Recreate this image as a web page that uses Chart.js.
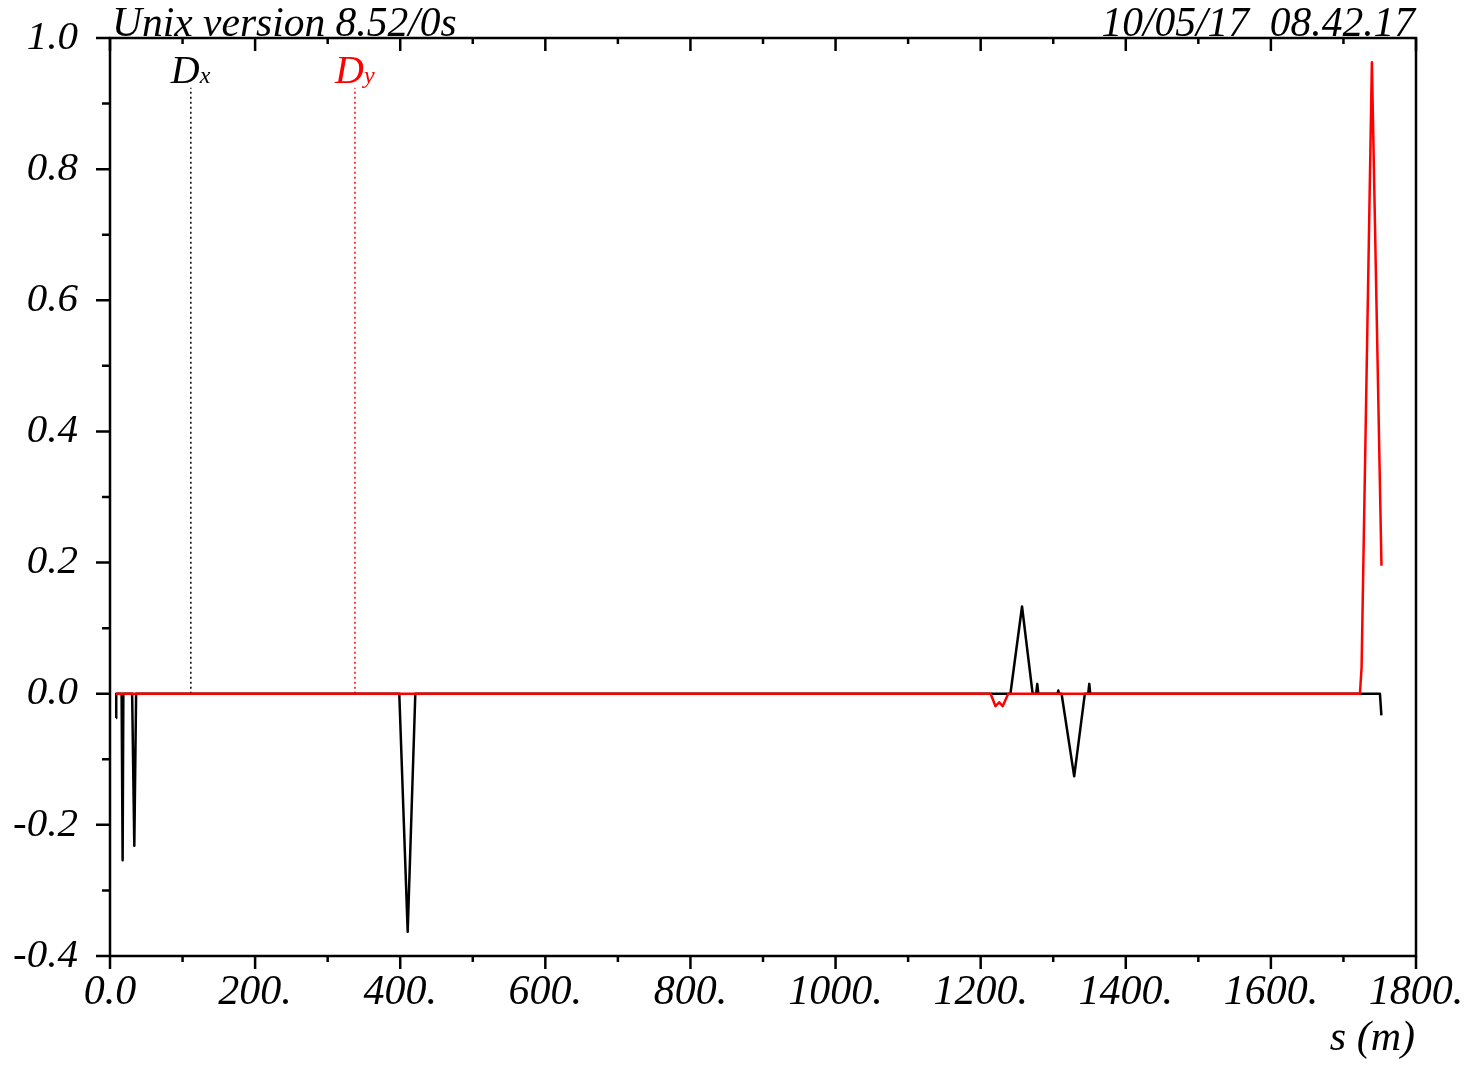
<!DOCTYPE html>
<html>
<head>
<meta charset="utf-8">
<title>Dispersion</title>
<script src="https://cdn.jsdelivr.net/npm/chart.js@4.4.1/dist/chart.umd.min.js"></script>
<style>
  html, body { margin: 0; padding: 0; background: #fff; }
  #wrap { width: 1473px; height: 1072px; }
</style>
</head>
<body>
<div id="wrap"><canvas id="dispChart" width="1473" height="1072"></canvas></div>
<script>
// s (m) and dispersion values
const sDx = [8.3, 8.6, 16.0, 17.4, 18.4, 30.5, 33.5, 36.0, 398.7, 410.3, 420.8, 1241.0, 1257.0, 1271.6, 1276.5, 1278.0, 1279.5, 1306.0, 1307.0, 1308.0, 1311.5, 1328.9, 1343.6, 1348.2, 1349.7, 1351.0, 1750.3, 1752.3];
const dx = [-0.037, 0, 0, -0.254, 0, 0, -0.232, 0, 0, -0.363, 0, 0, 0.133, 0, 0, 0.015, 0, 0, 0.005, 0, 0, -0.126, 0, 0, 0.015, 0, 0, -0.033];

const sDy = [8.3, 1213.7, 1220.5, 1225.6, 1230.3, 1238.0, 1722.7, 1725.0, 1739.2, 1752.4];
const dy = [0, 0, -0.019, -0.013, -0.019, 0, 0, 0.04, 0.963, 0.195];

const xTickValues = [0, 200, 400, 600, 800, 1000, 1200, 1400, 1600, 1800];
const xMinorTicks = [100, 300, 500, 700, 900, 1100, 1300, 1500, 1700];
const yTickValues = [-0.4, -0.2, 0, 0.2, 0.4, 0.6, 0.8, 1.0];
const yMinorTicks = [-0.3, -0.1, 0.1, 0.3, 0.5, 0.7, 0.9];

// curve labels with their leader lines
const dxMarkerS = 111.4;
const dyMarkerS = 337.6;
const markerTop = 0.924;

const headerLeft = 'Unix version 8.52/0s';
const headerRight = '10/05/17  08.42.17';
const xTitle = 's (m)';

const SERIF = '"Liberation Serif", "Times New Roman", serif';
const RED = '#ff0000';

const framePlugin = {
  id: 'frame',
  afterDraw(chart) {
    const { ctx, chartArea: a, scales } = chart;
    const xs = scales.x;
    const ys = scales.y;
    ctx.save();
    ctx.strokeStyle = '#000';
    ctx.lineWidth = 2.5;
    ctx.strokeRect(a.left, a.top, a.right - a.left, a.bottom - a.top);

    ctx.beginPath();
    xTickValues.forEach((v) => {
      const px = xs.getPixelForValue(v);
      ctx.moveTo(px, a.bottom);
      ctx.lineTo(px, a.bottom + 13);
      ctx.moveTo(px, a.top);
      ctx.lineTo(px, a.top + 13);
    });
    xMinorTicks.forEach((v) => {
      const px = xs.getPixelForValue(v);
      ctx.moveTo(px, a.bottom);
      ctx.lineTo(px, a.bottom + 6);
      ctx.moveTo(px, a.top);
      ctx.lineTo(px, a.top + 6);
    });
    yTickValues.forEach((v) => {
      const py = ys.getPixelForValue(v);
      ctx.moveTo(a.left, py);
      ctx.lineTo(a.left - 14, py);
    });
    yMinorTicks.forEach((v) => {
      const py = ys.getPixelForValue(v);
      ctx.moveTo(a.left, py);
      ctx.lineTo(a.left - 8, py);
    });
    ctx.stroke();

    ctx.fillStyle = '#000';
    ctx.font = 'italic 41.5px ' + SERIF;
    ctx.textBaseline = 'alphabetic';
    ctx.textAlign = 'left';
    ctx.fillText(headerLeft, a.left + 2, a.top - 2);
    ctx.textAlign = 'right';
    ctx.fillText(headerRight, a.right - 1, a.top - 2);
    ctx.font = 'italic 42px ' + SERIF;
    ctx.fillText(xTitle, a.right - 1, 1050);

    // curve labels D_x / D_y
    const labelY = ys.getPixelForValue(markerTop) - 5;
    const drawLabel = (s, sub, color) => {
      const px = xs.getPixelForValue(s);
      ctx.fillStyle = color;
      ctx.textAlign = 'left';
      ctx.font = 'italic 40px ' + SERIF;
      ctx.fillText('D', px - 20, labelY);
      ctx.font = 'italic 24px ' + SERIF;
      ctx.fillText(sub, px + 9, labelY);
    };
    drawLabel(dxMarkerS, 'x', '#000');
    drawLabel(dyMarkerS, 'y', RED);
    ctx.restore();
  },
};

const toPoints = (xsArr, ysArr) => xsArr.map((s, i) => ({ x: s, y: ysArr[i] }));

new Chart(document.getElementById('dispChart').getContext('2d'), {
  type: 'line',
  data: {
    datasets: [
      {
        label: 'Dy',
        data: toPoints(sDy, dy),
        borderColor: RED,
        borderWidth: 2.5,
        borderJoinStyle: 'round',
        pointRadius: 0,
        tension: 0,
        order: 0,
      },
      {
        label: 'Dx',
        data: toPoints(sDx, dx),
        borderColor: '#000',
        borderWidth: 2.5,
        borderJoinStyle: 'round',
        pointRadius: 0,
        tension: 0,
        order: 1,
      },
      {
        label: 'Dx marker',
        data: [{ x: dxMarkerS, y: 0 }, { x: dxMarkerS, y: markerTop }],
        borderColor: '#000',
        borderWidth: 1.5,
        borderDash: [2, 3],
        pointRadius: 0,
        order: 2,
      },
      {
        label: 'Dy marker',
        data: [{ x: dyMarkerS, y: 0 }, { x: dyMarkerS, y: markerTop }],
        borderColor: RED,
        borderWidth: 1.5,
        borderDash: [2, 3],
        pointRadius: 0,
        order: 2,
      },
    ],
  },
  options: {
    responsive: false,
    animation: false,
    layout: { padding: { top: 38, right: 57, left: 0, bottom: 0 } },
    plugins: {
      legend: { display: false },
      tooltip: { enabled: false },
    },
    scales: {
      x: {
        type: 'linear',
        min: 0,
        max: 1800,
        afterBuildTicks: (scale) => {
          scale.ticks = xTickValues.map((v) => ({ value: v }));
        },
        afterFit: (scale) => {
          scale.height = 116;
          scale.paddingLeft = 0;
          scale.paddingRight = 0;
        },
        grid: { display: false, drawTicks: true, tickLength: 13 },
        border: { display: false },
        ticks: {
          autoSkip: false,
          maxRotation: 0,
          padding: -1,
          color: '#000',
          font: { family: SERIF, size: 42, style: 'italic' },
          callback: (v) => (v === 0 ? '0.0' : v + '.'),
        },
      },
      y: {
        type: 'linear',
        min: -0.4,
        max: 1.0,
        afterBuildTicks: (scale) => {
          scale.ticks = yTickValues.map((v) => ({ value: v }));
        },
        afterFit: (scale) => {
          scale.width = 110;
          scale.paddingTop = 0;
          scale.paddingBottom = 0;
        },
        grid: { display: false, drawTicks: true, tickLength: 14 },
        border: { display: false },
        ticks: {
          autoSkip: false,
          padding: 18,
          color: '#000',
          font: { family: SERIF, size: 41, style: 'italic' },
          callback: (v) => Number(v).toFixed(1),
        },
      },
    },
  },
  plugins: [framePlugin],
});
</script>
</body>
</html>
